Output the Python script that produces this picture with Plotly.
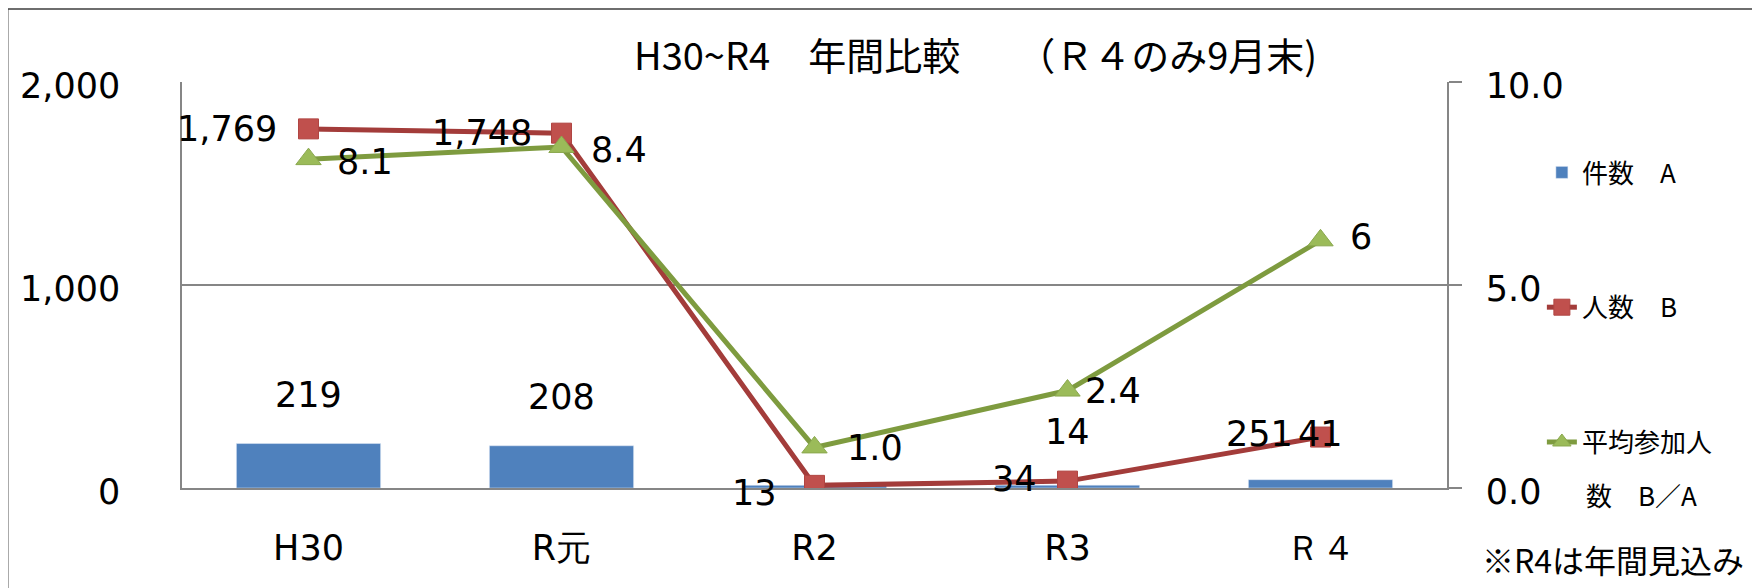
import plotly.graph_objects as go

# ---- data ----
categories = ["H30", "R元", "R2", "R3", "Ｒ４"]
count_a = [219, 208, 13, 14, 41]          # 件数 A
people_b = [1769, 1748, 13, 34, 251]      # 人数 B
avg_ba = [8.1, 8.4, 1.0, 2.4, 6.1]        # 平均参加人数 B/A
avg_labels = ["8.1", "8.4", "1.0", "2.4", "6"]
bar_label_show = [True, True, False, True, True]

title_text = "H30~R4　年間比較　　（Ｒ４のみ9月末)"
note_text = "※R4は年間見込み"
legend_names = ["件数　A", "人数　B", "平均参加人"]
legend_wrap = "数　B／A"

# ---- styles ----
BLUE = "#4F81BD"
RED_LINE = "#A33C3A"
RED_FILL = "#C0504D"
GREEN_LINE = "#7E9B3F"
GREEN_FILL = "#9BBB59"
GRAY = "#868686"
NUM_FONT = "DejaVu Sans"
JP_FONT = "Noto Sans CJK JP"

# label offsets (px)
bar_lbl_dx = [0, 0, 0, 0, 0]
bar_lbl_dy = [49, 49, 50, 53, 46]
red_lbl_dx = [-30, -28, -36, -29, -26]
red_lbl_dy = [0, 0, -8, 2, 3]
grn_lbl_dx = [26, 27, 30, 15, 27]
grn_lbl_dy = [-3, -3, -1, 0, 3]

fig = go.Figure()
fig.add_trace(go.Bar(
    x=categories, y=count_a, name=legend_names[0], marker_color=BLUE,
    legendgroup="a", yaxis="y"))
fig.add_trace(go.Scatter(
    x=categories, y=people_b, name=legend_names[1], mode="lines+markers",
    line=dict(color=RED_LINE, width=5),
    marker=dict(symbol="square", size=20, color=RED_FILL,
                line=dict(color="#B04542", width=1)),
    legendgroup="b", yaxis="y"))
fig.add_trace(go.Scatter(
    x=categories, y=avg_ba, name=legend_names[2], mode="lines+markers",
    line=dict(color=GREEN_LINE, width=5),
    marker=dict(symbol="triangle-up", size=22, color=GREEN_FILL,
                line=dict(color="#8AA84E", width=1)),
    legendgroup="c", yaxis="y2"))

ann = []
for i, c in enumerate(categories):
    if bar_label_show[i]:
        ann.append(dict(x=c, y=count_a[i], xref="x", yref="y", text=f"{count_a[i]:,}",
                        showarrow=False, xanchor="center", yanchor="middle",
                        xshift=bar_lbl_dx[i], yshift=bar_lbl_dy[i],
                        font=dict(family=NUM_FONT, size=35, color="black")))
    ann.append(dict(x=c, y=people_b[i], xref="x", yref="y", text=f"{people_b[i]:,}",
                    showarrow=False, xanchor="right", yanchor="middle",
                    xshift=red_lbl_dx[i], yshift=red_lbl_dy[i],
                    font=dict(family=NUM_FONT, size=35, color="black")))
    ann.append(dict(x=c, y=avg_ba[i], xref="x", yref="y2", text=avg_labels[i],
                    showarrow=False, xanchor="left", yanchor="middle",
                    xshift=grn_lbl_dx[i], yshift=grn_lbl_dy[i],
                    font=dict(family=NUM_FONT, size=35, color="black")))

ann.append(dict(x=0.627, y=1.069, xref="paper", yref="paper", text=title_text,
                showarrow=False, xanchor="center", yanchor="middle",
                font=dict(family=JP_FONT, size=38, color="black")))
ann.append(dict(x=1.131, y=-0.175, xref="paper", yref="paper", text=note_text,
                showarrow=False, xanchor="center", yanchor="middle",
                font=dict(family=JP_FONT, size=32, color="black")))
ann.append(dict(x=(1585 - 177) / 1270, y=(488 - 494) / 406, xref="paper", yref="paper",
                text=legend_wrap, showarrow=False, xanchor="left", yanchor="middle",
                font=dict(family=JP_FONT, size=26, color="black")))

shapes = [
    dict(type="rect", xref="paper", yref="paper",
         x0=(2 - 177) / 1270, x1=(1775 - 177) / 1270,
         y0=(488 - 9) / 406, y1=(488 - 610) / 406,
         line=dict(color="#3F3F3F", width=1.5), layer="below"),
    dict(type="circle", xref="paper", yref="paper",
         x0=(-32 - 177) / 1270, x1=(-4 - 177) / 1270,
         y0=(488 - 584) / 406, y1=(488 - 612) / 406,
         line=dict(color=BLUE, width=2)),
]

fig.update_layout(
    width=1760, height=588,
    margin=dict(l=169, r=321, t=74, b=108),
    plot_bgcolor="white", paper_bgcolor="white",
    bargap=0.43,
    annotations=ann, shapes=shapes,
    showlegend=True,
    legend=dict(x=1.075, xanchor="left", y=0.835, yanchor="top",
                font=dict(family=JP_FONT, size=26, color="black"),
                traceorder="grouped", tracegroupgap=98, valign="top",
                bgcolor="rgba(0,0,0,0)"),
    xaxis=dict(type="category", range=[-0.5, 4.5], autorange=False,
               showline=True, linecolor=GRAY, linewidth=1.5,
               ticks="", showgrid=False, zeroline=False,
               tickfont=dict(family=NUM_FONT, size=35, color="black"),
               ticklabelstandoff=28),
    yaxis=dict(range=[0, 2000], tickvals=[0, 1000, 2000], tickformat=",d",
               showgrid=True, gridcolor=GRAY, gridwidth=1.5,
               showline=True, linecolor=GRAY, linewidth=1.5,
               ticks="", zeroline=False,
               tickfont=dict(family=NUM_FONT, size=35, color="black"),
               ticklabelstandoff=53, ticklabelshift=4),
    yaxis2=dict(range=[0, 10], tickvals=[0, 5, 10], tickformat=".1f",
                overlaying="y", side="right", showgrid=False, zeroline=False,
                showline=True, linecolor=GRAY, linewidth=1.5,
                ticks="outside", ticklen=13, tickcolor=GRAY, tickwidth=1.5,
                tickfont=dict(family=NUM_FONT, size=35, color="black"),
                ticklabelstandoff=17, ticklabelshift=4),
)

fig.write_html("out.html")
